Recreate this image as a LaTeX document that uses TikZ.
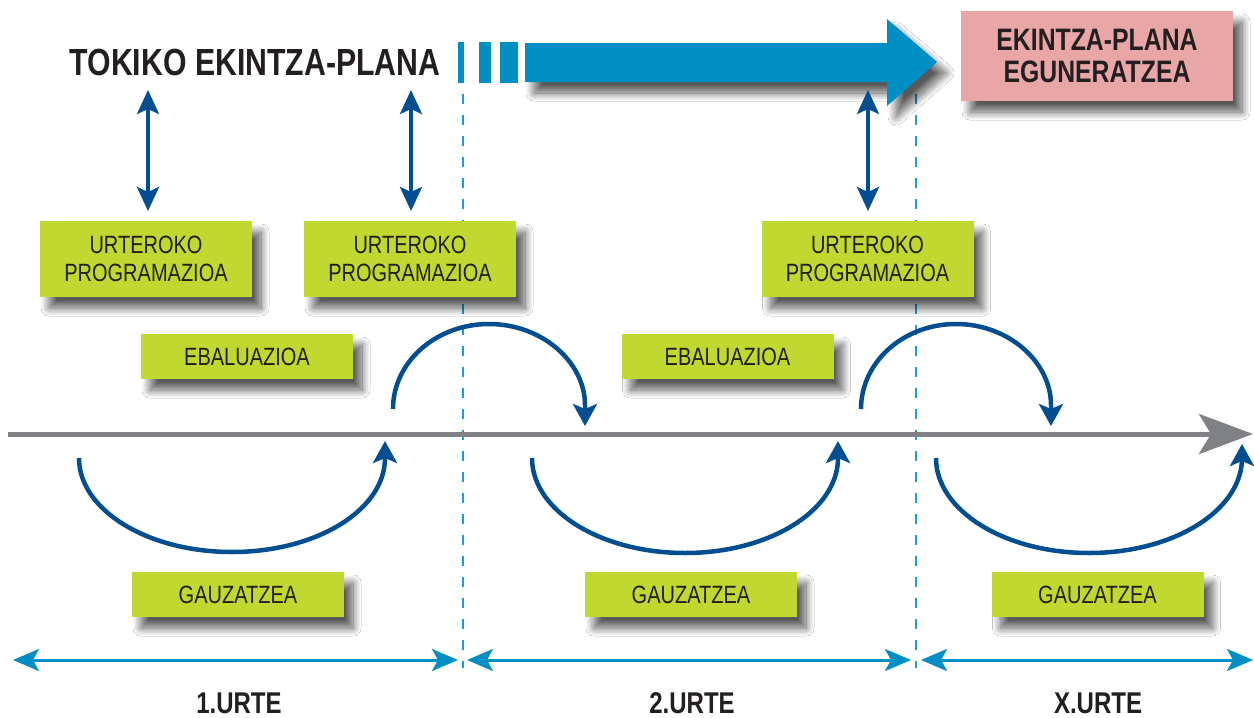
\documentclass[tikz,border=0pt]{standalone}
\usepackage{fontspec}
\setmainfont{Liberation Sans}[FakeStretch=0.8]
\usetikzlibrary{arrows.meta,shadows.blur}
\definecolor{limegr}{RGB}{192,216,47}
\definecolor{pinkbox}{RGB}{233,166,167}
\definecolor{darkblue}{RGB}{3,78,145}
\definecolor{lightblue}{RGB}{0,143,197}
\definecolor{dashblue}{RGB}{27,158,217}
\definecolor{linegrey}{RGB}{128,129,132}
\definecolor{txt}{RGB}{35,31,32}
\tikzset{
  shad/.style={blur shadow={shadow xshift=9pt, shadow yshift=-11pt, shadow blur radius=8pt, shadow blur steps=24, shadow opacity=65}},
  greenbox/.style={shad, fill=limegr, text=txt, minimum width=212pt, align=center, inner sep=0pt,
    font=\fontsize{25}{28}\selectfont},
  tallbox/.style={greenbox, minimum height=76pt},
  lowbox/.style={greenbox, minimum height=45pt},
  bold/.style={font=\fontsize{#1}{#1}\selectfont\bfseries, text=txt},
  vdbl/.style={darkblue, line width=3.5pt, {Stealth[length=24pt,width=22pt,inset=5pt]}-{Stealth[length=24pt,width=22pt,inset=5pt]}},
  cyc/.style={darkblue, line width=4.5pt, -{Stealth[length=22pt,width=24pt,inset=5pt]}},
  yeararrow/.style={lightblue, line width=3pt, {Stealth[length=26pt,width=22pt,inset=6pt]}-{Stealth[length=26pt,width=22pt,inset=6pt]}},
  sep/.style={dashblue, line width=2.8pt, dash pattern=on 10pt off 11pt},
}
\begin{document}
\begin{tikzpicture}[x=1pt,y=-1pt]
\useasboundingbox[fill=white] (0,0) rectangle (1254,718);

% separators
\coordinate (s1t) at (463,94); \coordinate (s1b) at (463,668);
\coordinate (s2t) at (916,94); \coordinate (s2b) at (916,668);
\draw[sep] (s1t) -- (s1b);
\draw[sep] (s2t) -- (s2b);

% title
\node[bold=37.8] (title) at (255,62) {TOKIKO EKINTZA-PLANA};

% big arrow
\fill[lightblue, shad] (525,43) -- (887,43) -- (887,19) -- (937,62) -- (887,106) -- (887,82) -- (525,82) -- cycle;
\fill[lightblue] (458,42) rectangle (464,83);
\fill[lightblue] (479,42) rectangle (491,83);
\fill[lightblue] (500,42) rectangle (518,83);

% update box
\node[shad, fill=pinkbox, minimum width=272pt, minimum height=90pt, align=center, inner sep=0pt,
  font=\fontsize{31}{32}\selectfont\bfseries, text=txt] (upd) at (1097,56) {EKINTZA-PLANA\\EGUNERATZEA};

% programming boxes
\node[tallbox] (p1) at (146,259) {URTEROKO\\PROGRAMAZIOA};
\node[tallbox] (p2) at (410,259) {URTEROKO\\PROGRAMAZIOA};
\node[tallbox] (p3) at (867.5,259) {URTEROKO\\PROGRAMAZIOA};

% evaluation boxes
\node[lowbox] (e1) at (247,356.5) {EBALUAZIOA};
\node[lowbox] (e2) at (727.5,356.5) {EBALUAZIOA};

% execution boxes
\node[lowbox] (g1) at (238,594.5) {GAUZATZEA};
\node[lowbox] (g2) at (691,594.5) {GAUZATZEA};
\node[lowbox] (g3) at (1097.5,594.5) {GAUZATZEA};

% vertical links
\coordinate (v1t) at (148,90); \coordinate (v1b) at (148,211);
\coordinate (v2t) at (411,90); \coordinate (v2b) at (411,211);
\coordinate (v3t) at (868,90); \coordinate (v3b) at (868,211);
\draw[vdbl] (v1t) -- (v1b);
\draw[vdbl] (v2t) -- (v2b);
\draw[vdbl] (v3t) -- (v3b);

% timeline
\coordinate (tl0) at (8,434); \coordinate (tl1) at (1253,434);
\draw[linegrey, line width=5pt, -{Stealth[length=54pt,width=40pt,inset=12pt]}] (tl0) -- (tl1);

% lower cycles
\draw[cyc] (79,458) .. controls (79,510) and (147.5,552) .. (232,552)
  .. controls (316.5,552) and (385,510) .. (385,458) -- (385,441);
\draw[cyc] (532,458) .. controls (532,510.5) and (600.5,553) .. (685,553)
  .. controls (769.5,553) and (838,510.5) .. (838,458) -- (838,441);
\draw[cyc] (936,458) .. controls (936,510.5) and (1004.5,553) .. (1089,553)
  .. controls (1173.5,553) and (1242,510.5) .. (1242,458) -- (1242,444);

% upper cycles
\draw[cyc] (393,409) .. controls (393,362) and (436,324) .. (489,324)
  .. controls (542,324) and (585,362) .. (585,405) -- (585,426);
\draw[cyc] (861,409) .. controls (861,362) and (903.5,324) .. (956,324)
  .. controls (1008.5,324) and (1051,362) .. (1051,405) -- (1051,426);

% year spans
\coordinate (y0) at (13,660); \coordinate (y1) at (458,660);
\coordinate (y2) at (467,660); \coordinate (y3) at (911,660);
\coordinate (y4) at (921,660); \coordinate (y5) at (1253,660);
\draw[yeararrow] (y0) -- (y1);
\draw[yeararrow] (y2) -- (y3);
\draw[yeararrow] (y4) -- (y5);

\node[bold=30, inner sep=1pt] (u1) at (239,703) {1.URTE};
\node[bold=30, inner sep=1pt] (u2) at (692,703) {2.URTE};
\node[bold=30, inner sep=1pt] (u3) at (1098,703) {X.URTE};
\end{tikzpicture}
\end{document}
